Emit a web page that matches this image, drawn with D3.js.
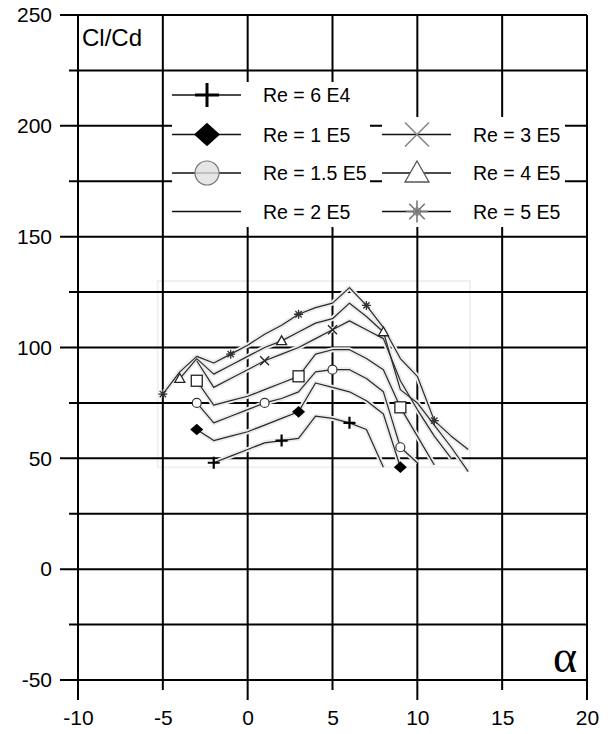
<!DOCTYPE html>
<html>
<head>
<meta charset="utf-8">
<script src="https://cdn.jsdelivr.net/npm/d3@7"></script>
<style>
  body { margin: 0; background: #fff; }
  svg text { font-family: "Liberation Sans", Arial, sans-serif; fill: #000; }
</style>
</head>
<body>
<svg width="611" height="734"></svg>
<script>
// values
var seriesNames = ["Re = 6 E4", "Re = 1 E5", "Re = 1.5 E5", "Re = 2 E5", "Re = 3 E5", "Re = 4 E5", "Re = 5 E5"];
var plotMarkers = ["plus", "diamond", "circle", "square", "cross", "triangle", "star"];
var legendMarkers = ["plus", "diamond", "circle", "none", "cross", "triangle", "star"];

var alpha6e4 = [-2, -1, 0, 1, 2, 3, 4, 5, 6, 7, 8];
var cl6e4 = [48, 51, 54, 57, 58, 59, 69, 68, 66, 63, 46];
var marks6e4 = [-2, 2, 6];

var alpha1e5 = [-3, -2, -1, 0, 1, 2, 3, 4, 5, 6, 7, 8, 9];
var cl1e5 = [63, 58, 60, 62, 65, 68, 71, 84, 82, 80, 76, 70, 46];
var marks1e5 = [-3, 3, 9];

var alpha15e5 = [-3, -2, -1, 0, 1, 2, 3, 4, 5, 6, 7, 8, 9, 10];
var cl15e5 = [75, 66, 69, 72, 75, 77, 80, 89, 90, 90, 86, 80, 55, 48];
var marks15e5 = [-3, 1, 5, 9];

var alpha2e5 = [-3, -2, -1, 0, 1, 2, 3, 4, 5, 6, 7, 8, 9, 10, 11];
var cl2e5 = [85, 74, 76, 78, 81, 84, 87, 97, 99, 99, 95, 90, 73, 60, 47];
var marks2e5 = [-3, 3, 9];

var alpha3e5 = [-3, -2, -1, 0, 1, 2, 3, 4, 5, 6, 7, 8, 9, 10, 11, 12];
var cl3e5 = [94, 82, 86, 90, 94, 97, 100, 104, 108, 112, 108, 104, 85, 72, 60, 50];
var marks3e5 = [1, 5];

var alpha4e5 = [-4, -3, -2, -1, 0, 1, 2, 3, 4, 5, 6, 7, 8, 9, 10, 11, 12, 13];
var cl4e5 = [86, 95, 88, 92, 96, 100, 103, 107, 111, 113, 120, 114, 107, 81, 75, 65, 55, 44];
var marks4e5 = [-4, 2, 8];

var alpha5e5 = [-5, -4, -3, -2, -1, 0, 1, 2, 3, 4, 5, 6, 7, 8, 9, 10, 11, 12, 13];
var cl5e5 = [79, 89, 96, 93, 97, 101, 106, 110, 115, 118, 120, 127, 119, 109, 95, 87, 67, 60, 54];
var marks5e5 = [-5, -1, 3, 7, 11];

var xGrid = [-10, -5, 0, 5, 10, 15, 20];
var yGrid = [-50, -25, 0, 25, 50, 75, 100, 125, 150, 175, 200, 225, 250];
var xLabels = [-10, -5, 0, 5, 10, 15, 20];
var yLabels = [-50, 0, 50, 100, 150, 200, 250];

var allAlpha = [alpha6e4, alpha1e5, alpha15e5, alpha2e5, alpha3e5, alpha4e5, alpha5e5];
var allCl = [cl6e4, cl1e5, cl15e5, cl2e5, cl3e5, cl4e5, cl5e5];
var allMarks = [marks6e4, marks1e5, marks15e5, marks2e5, marks3e5, marks4e5, marks5e5];

var svg = d3.select("svg"),
  margin = { top: 15, right: 24, bottom: 54, left: 78 },
  width = +svg.attr("width") - margin.left - margin.right,
  height = +svg.attr("height") - margin.top - margin.bottom,
  g = svg.append("g").attr("transform", "translate(" + margin.left + "," + margin.top + ")");

var x = d3.scaleLinear().domain([-10, 20]).range([0, width]);
var y = d3.scaleLinear().domain([-50, 250]).range([height, 0]);

// faint box left by the pasted-in curves
g.append("rect")
  .attr("x", x(-5.3)).attr("y", y(130))
  .attr("width", x(13.1) - x(-5.3)).attr("height", y(46) - y(130))
  .attr("fill", "none").attr("stroke", "#f0f0f0").attr("stroke-width", 2);

// grid, extended past the frame as ticks
g.selectAll(".vgrid").data(xGrid).enter().append("line")
  .attr("x1", function (d) { return x(d); })
  .attr("x2", function (d) { return x(d); })
  .attr("y1", 0)
  .attr("y2", function (d) { return height + (d % 10 === 0 ? 20 : 10); })
  .attr("stroke", "#000").attr("stroke-width", 2);

g.selectAll(".hgrid").data(yGrid).enter().append("line")
  .attr("x1", function (d) { return d % 50 === 0 ? -18 : -9; })
  .attr("x2", width)
  .attr("y1", function (d) { return y(d); })
  .attr("y2", function (d) { return y(d); })
  .attr("stroke", "#000").attr("stroke-width", 2);

var plain = function (d) { return String(d); };
var yAxis = g.append("g")
  .call(d3.axisLeft(y).tickValues(yLabels).tickFormat(plain).tickSize(0).tickPadding(26));
var xAxis = g.append("g").attr("transform", "translate(0," + height + ")")
  .call(d3.axisBottom(x).tickValues(xLabels).tickFormat(plain).tickSize(0).tickPadding(30));
[yAxis, xAxis].forEach(function (a) {
  a.select(".domain").remove();
  a.attr("font-family", null).attr("font-size", null);
  a.selectAll("text").style("font-size", "21px").attr("fill", "#000");
});

svg.append("text").attr("x", 82).attr("y", 46).style("font-size", "24px").text("Cl/Cd");
svg.append("text").attr("x", 577).attr("y", 672).attr("text-anchor", "end")
  .style("font-family", "'Liberation Serif', 'Times New Roman', serif")
  .style("font-size", "46px").text("\u03b1");

function drawMarker(sel, type, s, legend) {
  var ink = "#000";
  if (type === "plus") {
    sel.append("path").attr("d", "M" + (-s) + ",0H" + s + "M0," + (-s) + "V" + s)
      .attr("stroke", ink).attr("stroke-width", legend ? 3 : 2.2).attr("fill", "none");
  } else if (type === "diamond") {
    sel.append("path").attr("d", "M0," + (-s * 0.9) + "L" + s + ",0L0," + (s * 0.9) + "L" + (-s) + ",0Z")
      .attr("fill", ink);
  } else if (type === "circle") {
    sel.append("circle").attr("r", s)
      .attr("fill", legend ? "#e6e6e6" : "#fff").attr("stroke", legend ? "#777" : "#333").attr("stroke-width", 1.2);
    if (legend) sel.append("path").attr("d", "M" + (-s) + ",0H" + s).attr("stroke", "#999").attr("stroke-width", 1);
  } else if (type === "square") {
    sel.append("rect").attr("x", -s).attr("y", -s).attr("width", 2 * s).attr("height", 2 * s)
      .attr("fill", "#fff").attr("stroke", "#222").attr("stroke-width", 1.3);
  } else if (type === "cross") {
    sel.append("path").attr("d", "M" + (-s) + "," + (-s) + "L" + s + "," + s + "M" + (-s) + "," + s + "L" + s + "," + (-s))
      .attr("stroke", legend ? "#888" : "#222").attr("stroke-width", legend ? 1.6 : 1.3).attr("fill", "none");
  } else if (type === "triangle") {
    sel.append("path").attr("d", "M0," + (-s) + "L" + s + "," + (s * 0.75) + "L" + (-s) + "," + (s * 0.75) + "Z")
      .attr("fill", "#fff").attr("stroke", legend ? "#555" : "#222").attr("stroke-width", 1.3);
  } else if (type === "star") {
    var d = "";
    [0, 45, 90, 135].forEach(function (a) {
      var r = a * Math.PI / 180;
      d += "M" + (-s * Math.cos(r)) + "," + (-s * Math.sin(r)) + "L" + (s * Math.cos(r)) + "," + (s * Math.sin(r));
    });
    sel.append("path").attr("d", d).attr("stroke", legend ? "#777" : "#333")
      .attr("stroke-width", legend ? 1.6 : 1.3).attr("fill", "none");
    sel.append("circle").attr("r", s * 0.35).attr("fill", "none").attr("stroke", legend ? "#777" : "#333");
  }
}

var line = d3.line()
  .x(function (d) { return x(d[0]); })
  .y(function (d) { return y(d[1]); });

var curves = g.append("g");
allAlpha.forEach(function (al, i) {
  var pts = d3.zip(al, allCl[i]);
  curves.append("path").attr("d", line(pts))
    .attr("fill", "none").attr("stroke", "#ebebeb").attr("stroke-width", 5).attr("stroke-linejoin", "round");
});
allAlpha.forEach(function (al, i) {
  var pts = d3.zip(al, allCl[i]);
  curves.append("path").attr("d", line(pts))
    .attr("fill", "none").attr("stroke", "#2a2a2a").attr("stroke-width", 1.2).attr("stroke-linejoin", "round");
});
var sizes = { plus: 6, diamond: 6.5, circle: 4.5, square: 5.5, cross: 4.5, triangle: 5, star: 4.5 };
allAlpha.forEach(function (al, i) {
  var pts = d3.zip(al, allCl[i]).filter(function (p) { return allMarks[i].indexOf(p[0]) >= 0; });
  pts.forEach(function (p) {
    var m = curves.append("g").attr("transform", "translate(" + x(p[0]) + "," + y(p[1]) + ")");
    drawMarker(m, plotMarkers[i], sizes[plotMarkers[i]], false);
  });
});

// legend: white patches hide the grid behind the two columns
svg.append("rect").attr("x", 172).attr("y", 82).attr("width", 198).attr("height", 145).attr("fill", "#fff");
svg.append("rect").attr("x", 382).attr("y", 117).attr("width", 183).attr("height", 110).attr("fill", "#fff");

var legendSizes = { plus: 12, diamond: 13, circle: 12, cross: 12, triangle: 12, star: 11 };
var legendPos = [
  [172, 95], [172, 134.5], [172, 173], [172, 211.5],
  [382, 134.5], [382, 173], [382, 211.5]
];
seriesNames.forEach(function (name, i) {
  var lg = svg.append("g").attr("transform", "translate(" + legendPos[i][0] + "," + legendPos[i][1] + ")");
  lg.append("line").attr("x1", 0).attr("x2", 69).attr("y1", 0).attr("y2", 0)
    .attr("stroke", "#111").attr("stroke-width", 1.6);
  if (legendMarkers[i] !== "none") {
    drawMarker(lg.append("g").attr("transform", "translate(35,0)"), legendMarkers[i], legendSizes[legendMarkers[i]], true);
  }
  lg.append("text").attr("x", 91).attr("y", 7).style("font-size", "19.5px").text(name);
});
</script>
</body>
</html>
